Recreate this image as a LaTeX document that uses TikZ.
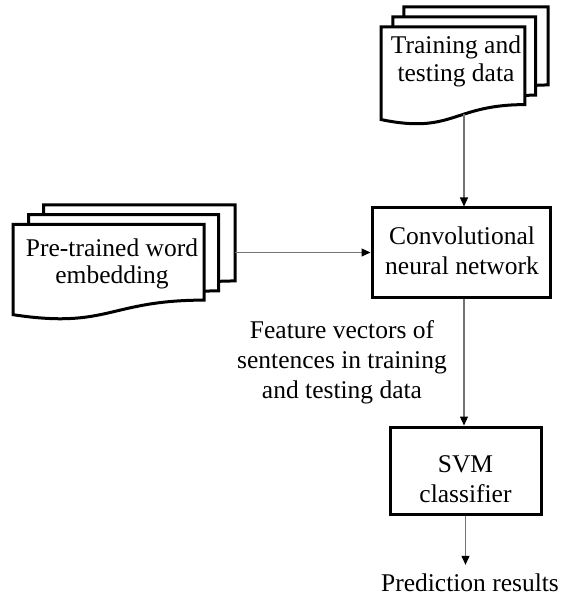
\documentclass[tikz,border=0pt]{standalone}
\usepackage{fontspec}
\setmainfont{Liberation Serif}
\usetikzlibrary{arrows.meta}
\tikzset{
  sheet/.style={draw=black, fill=white, line width=3pt, line join=miter},
  box/.style={draw=black, fill=white, line width=3pt, inner sep=0pt},
  lbl/.style={align=center, inner sep=0pt, font=\fontsize{25.5pt}{30pt}\selectfont},
  arr/.style={draw=black!55, line width=1.1pt, -{Triangle[length=9pt,width=8pt,color=black]}},
}
\newcommand{\mdocshape}{%
  \path[sheet] (29.72,0) -- (216,0) -- (216,143.92)
     .. controls (208,143.92) and (200,144.67) .. (200,144.67)
     -- (29.72,144.67) -- cycle;
  \path[sheet] (15.32,18.15) -- (200,18.15) -- (200,162.52)
     .. controls (192.98,162.52) and (185.95,163.52) .. (185.95,163.52)
     -- (15.32,163.52) -- cycle;
  \path[sheet] (0,36.75) -- (185.95,36.75) -- (185.95,180.22)
     .. controls (92.98,180.22) and (92.98,235.42) .. (0,207.82) -- cycle;
}
\begin{document}
\begin{tikzpicture}[x=1pt,y=-1pt]
\useasboundingbox[fill=white] (0,0) rectangle (561,601);
% top multidocument
\begin{scope}[shift={(381,7)}, xscale=0.77315, yscale=0.54167]
  \mdocshape
\end{scope}
\node[lbl] (train) at (456,61.5) {Training and\\[-1.5pt]testing data};
% left multidocument
\begin{scope}[shift={(13,205)}, xscale=1.02778, yscale=0.52778]
  \mdocshape
\end{scope}
\node[lbl] (embed) at (112,264) {Pre-trained word\\[-3pt]embedding};
% coordinates on the documents
\coordinate (tdbot) at (464,114);
\coordinate (ldright) at (235,252.5);
% CNN
\node[box, minimum width=178pt, minimum height=89pt] (cnn) at (461,252.5) {};
\node[lbl] (cnntext) at (462,250.5) {Convolutional\\neural network};
% SVM
\node[box, minimum width=151pt, minimum height=87pt] (svm) at (465.5,470.5) {};
\node[lbl] (svmtext) at (465.5,479) {SVM\\classifier};
% labels
\node[lbl] (feat) at (342,362) {Feature vectors of\\sentences in training\\and testing data};
\node[lbl, inner ysep=9pt] (pred) at (470,583) {Prediction results};
% connectors
\draw[arr] (tdbot) -- (tdbot |- cnn.north);
\draw[arr] (ldright) -- (ldright -| cnn.west);
\draw[arr] (cnn.south -| tdbot) -- (tdbot |- svm.north);
\draw[arr] (svm.south) -- (svm.south |- pred.north);
\end{tikzpicture}
\end{document}
